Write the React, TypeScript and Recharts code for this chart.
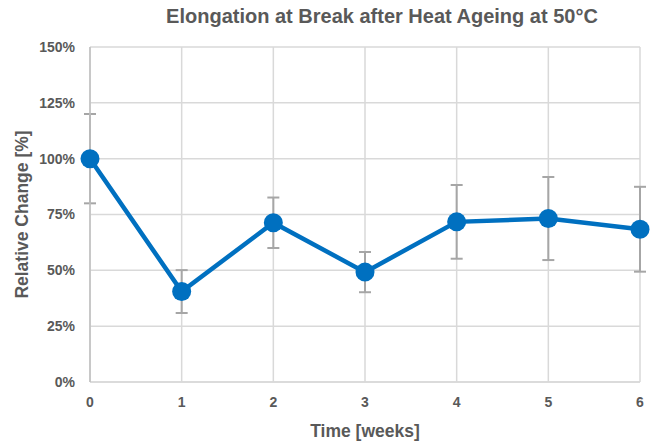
import React from "react";
import {
  CartesianGrid,
  ErrorBar,
  Label,
  Line,
  LineChart,
  XAxis,
  YAxis,
} from "recharts";

const weeks = [0, 1, 2, 3, 4, 5, 6];
const relativeChange = [100, 40.5, 71.3, 49.2, 71.7, 73.2, 68.4];
const errorMargin = [20, 9.6, 11.3, 9, 16.5, 18.6, 19];
const yTicks = [0, 25, 50, 75, 100, 125, 150];
const xTicks = [0, 1, 2, 3, 4, 5, 6];

const FONT = "'Liberation Sans', Arial, sans-serif";
const TEXT = "#595959";

const data = weeks.map((w, i) => ({
  week: w,
  value: relativeChange[i],
  err: errorMargin[i],
}));

export default function App() {
  return (
    <div
      style={{
        position: "absolute",
        top: 0,
        left: 0,
        width: 657,
        height: 441,
        background: "#fff",
        fontFamily: FONT,
      }}
    >
      <LineChart
        width={657}
        height={441}
        data={data}
        margin={{ top: 47, right: 17, bottom: 0, left: 0 }}
      >
        <text
          x={382}
          y={23}
          textAnchor="middle"
          fontSize={20}
          fontWeight={700}
          fill={TEXT}
          fontFamily={FONT}
        >
          Elongation at Break after Heat Ageing at 50°C
        </text>
        <CartesianGrid stroke="#d9d9d9" strokeWidth={1.5} />
        <XAxis
          dataKey="week"
          type="number"
          domain={[0, 6]}
          ticks={xTicks}
          height={59}
          axisLine={{ stroke: "#d9d9d9", strokeWidth: 1.5 }}
          tickLine={false}
          tickSize={6}
          tickMargin={9}
          tick={{ fill: TEXT, fontSize: 14, fontWeight: 700, fontFamily: FONT }}
        >
          <Label
            value="Time [weeks]"
            position="insideBottom"
            offset={4}
            fill={TEXT}
            fontSize={17.5}
            fontWeight={700}
            fontFamily={FONT}
          />
        </XAxis>
        <YAxis
          type="number"
          domain={[0, 150]}
          ticks={yTicks}
          width={90}
          interval={0}
          axisLine={{ stroke: "#bfbfbf", strokeWidth: 1.5 }}
          tickLine={false}
          tickSize={6}
          tickMargin={9}
          tickFormatter={(v: number) => `${v}%`}
          tick={{ fill: TEXT, fontSize: 14, fontWeight: 700, fontFamily: FONT }}
        >
          <Label
            value="Relative Change [%]"
            angle={-90}
            position="insideLeft"
            offset={22}
            fill={TEXT}
            fontSize={17.5}
            fontWeight={700}
            fontFamily={FONT}
            style={{ textAnchor: "middle" }}
          />
        </YAxis>
        <Line
          type="linear"
          dataKey="value"
          stroke="#0070c0"
          strokeWidth={4.5}
          dot={{ r: 9.5, fill: "#0070c0", stroke: "#0070c0", strokeWidth: 0 }}
          activeDot={false}
          isAnimationActive={false}
        >
          <ErrorBar
            dataKey="err"
            direction="y"
            width={6}
            stroke="#a6a6a6"
            strokeWidth={2}
          />
        </Line>
      </LineChart>
    </div>
  );
}
